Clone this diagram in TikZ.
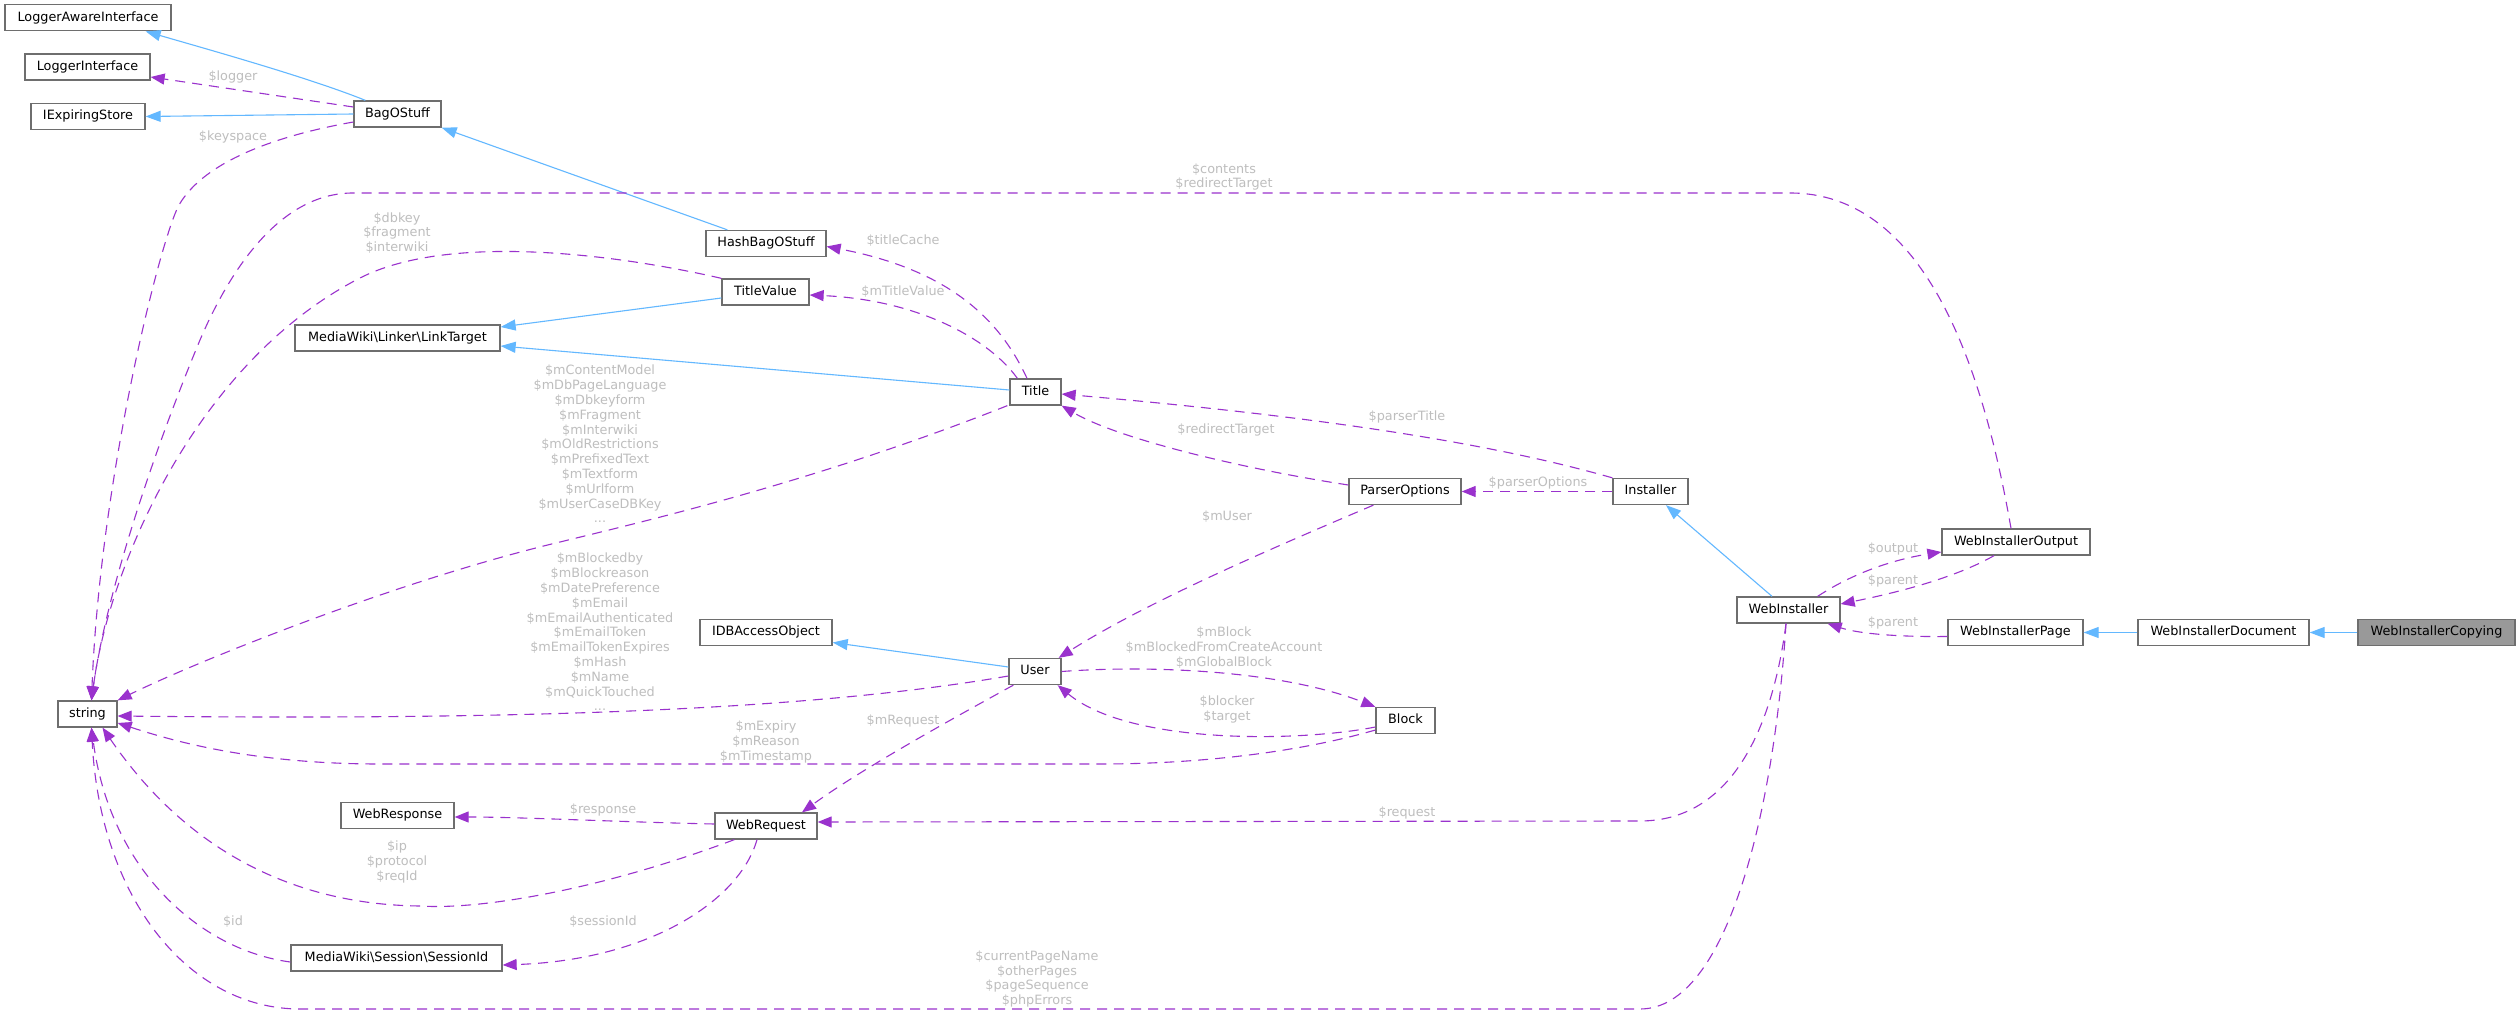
\documentclass[tikz,border=0pt]{standalone}
\usepackage{fontspec}
\setmainfont{DejaVu Sans}
\usetikzlibrary{arrows.meta,calc}
\definecolor{edgeblue}{HTML}{63B8FF}
\definecolor{edgepurple}{HTML}{9A32CD}
\definecolor{labelgrey}{HTML}{BEBEBE}
\definecolor{boxgrey}{HTML}{6E6E6E}
\definecolor{focusgrey}{HTML}{999999}
\newcommand\dgfont{\fontsize{12.8}{14.8}\selectfont}
\begin{document}
\begin{tikzpicture}[x=1pt,y=-1pt,
  classbox/.style={draw=boxgrey, line width=1.3pt, fill=white, minimum height=26pt,
    inner sep=0pt, text height=9.4pt, text depth=2.6pt, font=\dgfont},
  inhedge/.style={draw=edgeblue, line width=1.1pt,
    -{Triangle[length=15pt,width=11pt,fill=edgeblue]}},
  assoc/.style={draw=edgepurple, line width=1.1pt, dash pattern=on 10pt off 7pt,
    -{Triangle[length=14pt,width=11pt,fill=edgepurple]}},
  lbl/.style={text=labelgrey, font=\dgfont, align=center, inner sep=0pt}]
\fill[white] (0,0) rectangle (2520,1016);
\useasboundingbox (0,0) rectangle (2520,1016);

% nodes
\node[classbox, minimum width=166pt] (LAI) at (88,17.7) {LoggerAwareInterface};
\node[classbox, minimum width=125pt] (LI) at (87.5,67) {LoggerInterface};
\node[classbox, minimum width=114pt] (IES) at (88,116.5) {IExpiringStore};
\node[classbox, minimum width=87pt] (BOS) at (397.5,114) {BagOStuff};
\node[classbox, minimum width=120pt] (HBOS) at (766,243.5) {HashBagOStuff};
\node[classbox, minimum width=87pt] (TV) at (765.5,292) {TitleValue};
\node[classbox, minimum width=205pt] (LT) at (397.5,338) {MediaWiki\textbackslash Linker\textbackslash LinkTarget};
\node[classbox, minimum width=51pt] (Title) at (1035.5,392) {Title};
\node[classbox, minimum width=112pt] (PO) at (1405,491.5) {ParserOptions};
\node[classbox, minimum width=75pt] (Inst) at (1650.5,491.5) {Installer};
\node[classbox, minimum width=148pt] (WIO) at (2016,542) {WebInstallerOutput};
\node[classbox, minimum width=103pt] (WI) at (1788.5,610) {WebInstaller};
\node[classbox, minimum width=135pt] (WIP) at (2015.5,632.5) {WebInstallerPage};
\node[classbox, minimum width=171pt] (WID) at (2223.5,632.5) {WebInstallerDocument};
\node[classbox, minimum width=157pt, fill=focusgrey] (WIC) at (2436.5,632.5) {WebInstallerCopying};
\node[classbox, minimum width=132pt] (IDBAO) at (766,632.5) {IDBAccessObject};
\node[classbox, minimum width=52pt] (User) at (1035,671.5) {User};
\node[classbox, minimum width=59pt] (string) at (87.5,714) {string};
\node[classbox, minimum width=59pt] (Block) at (1405.5,720.5) {Block};
\node[classbox, minimum width=113pt] (WResp) at (397.5,815.5) {WebResponse};
\node[classbox, minimum width=102pt] (WReq) at (766,826) {WebRequest};
\node[classbox, minimum width=211pt] (SID) at (396.5,958) {MediaWiki\textbackslash Session\textbackslash SessionId};

% inheritance edges
\draw[inhedge] ($(BOS.north west)+(12,0)$) .. controls (310,78) and (210,50) .. ($(LAI.south east)+(-26,0)$);
\draw[inhedge] (BOS.west) -- (IES.east);
\draw[inhedge] ($(HBOS.north west)+(22,0)$) -- (BOS.south east);
\draw[inhedge] ($(TV.west)+(0,6)$) -- ($(LT.east)+(0,-11)$);
\draw[inhedge] ($(Title.west)+(0,-2)$) -- ($(LT.east)+(0,8)$);
\draw[inhedge] ($(WI.north)+(-16.5,0)$) -- ($(Inst.south)+(15.5,0)$);
\draw[inhedge] ($(User.west)+(0,-4.5)$) -- ($(IDBAO.east)+(0,10)$);
\draw[inhedge] (WID.west) -- (WIP.east);
\draw[inhedge] (WIC.west) -- (WID.east);

% usage edges
\draw[assoc] ($(BOS.west)+(0,-7)$) -- ($(LI.east)+(0,10)$);
\draw[assoc] ($(BOS.west)+(0,8)$) .. controls (280,135) and (205,160) .. (179,205) .. controls (160,240) and (100,480) .. ($(string.north)+(4,0)$);
\draw[assoc] ($(WIO.north)+(-5,0)$) .. controls (1985,380) and (1930,193) .. (1790,193) -- (353,193) .. controls (280,193) and (230,270) .. (200,340) .. controls (150,460) and (105,600) .. ($(string.north)+(4,0)$);
\draw[assoc] (TV.north west) .. controls (620,255) and (450,232) .. (360,278) .. controls (200,360) and (110,560) .. ($(string.north)+(4,0)$);
\draw[assoc] ($(Title.south west)+(-2,0)$) .. controls (820,480) and (650,520) .. (560,542) .. controls (400,580) and (200,660) .. (string.north east);
\draw[assoc] ($(Title.north)+(-8.5,0)$) .. controls (1000,320) and (950,270) .. ($(HBOS.east)+(0,3)$);
\draw[assoc] ($(Title.north west)+(8,0)$) .. controls (990,340) and (920,300) .. ($(TV.east)+(0,3)$);
\draw[assoc] (Inst.north west) .. controls (1480,440) and (1300,415) .. ($(Title.east)+(0,2)$);
\draw[assoc] ($(PO.west)+(0,-6.5)$) .. controls (1250,470) and (1120,440) .. (Title.south east);
\draw[assoc] (Inst.west) -- (PO.east);
\draw[assoc] ($(PO.south west)+(25,0)$) .. controls (1280,545) and (1150,600) .. ($(User.north east)+(-3,0)$);
\draw[assoc] ($(WI.north east)+(-23,0)$) .. controls (1850,575) and (1890,560) .. ($(WIO.west)+(0,10)$);
\draw[assoc] ($(WIO.south)+(-22,0)$) .. controls (1960,575) and (1910,590) .. ($(WI.east)+(0,-6)$);
\draw[assoc] ($(WIP.west)+(0,4)$) .. controls (1900,637) and (1860,634) .. ($(WI.south east)+(-13,0)$);
\draw[assoc] ($(WI.south)+(-2.5,0)$) .. controls (1775,710) and (1740,821) .. (1640,821) -- ($(WReq.east)+(0,-4)$);
\draw[assoc] ($(WI.south)+(-2.5,0)$) .. controls (1775,800) and (1730,1009) .. (1640,1009) -- (300,1009) .. controls (190,1009) and (100,900) .. ($(string.south)+(4,0)$);
\draw[assoc] ($(User.west)+(0,4.5)$) .. controls (800,712) and (500,720) .. ($(string.east)+(0,2)$);
\draw[assoc] (User.east) .. controls (1150,665) and (1280,670) .. (Block.north west);
\draw[assoc] ($(Block.west)+(0,6.5)$) .. controls (1300,742) and (1130,745) .. ($(User.south east)+(-4,0)$);
\draw[assoc] ($(Block.west)+(0,9.5)$) .. controls (1300,752) and (1200,764) .. (1100,764) -- (380,764) .. controls (250,764) and (170,740) .. ($(string.east)+(0,9)$);
\draw[assoc] ($(User.south west)+(5,0)$) .. controls (950,720) and (860,770) .. ($(WReq.north)+(36,0)$);
\draw[assoc] ($(WReq.west)+(0,-2)$) .. controls (620,822) and (520,817) .. ($(WResp.east)+(0,1.5)$);
\draw[assoc] ($(WReq.south west)+(20,0)$) .. controls (600,890) and (480,910) .. (420,906) .. controls (320,905) and (200,870) .. ($(string.south)+(15,0)$);
\draw[assoc] ($(WReq.south)+(-9,0)$) .. controls (740,900) and (650,960) .. ($(SID.east)+(0,7)$);
\draw[assoc] ($(SID.west)+(0,4)$) .. controls (200,950) and (110,870) .. ($(string.south)+(4,0)$);

% edge labels
\node[lbl] (Llogger) at (233,77) {\$logger};
\node[lbl] (Lkeyspace) at (233,137) {\$keyspace};
\node[lbl] (Lcontents) at (1224,177) {\$contents\\\$redirectTarget};
\node[lbl] (Ldbkey) at (397,233) {\$dbkey\\\$fragment\\\$interwiki};
\node[lbl] (LtitleCache) at (903,241) {\$titleCache};
\node[lbl] (LmTitleValue) at (903,292) {\$mTitleValue};
\node[lbl] (LTitleStr) at (600,444) {\$mContentModel\\\$mDbPageLanguage\\\$mDbkeyform\\\$mFragment\\\$mInterwiki\\\$mOldRestrictions\\\$mPrefixedText\\\$mTextform\\\$mUrlform\\\$mUserCaseDBKey\\...};
\node[lbl] (LparserTitle) at (1407,417) {\$parserTitle};
\node[lbl] (LredirectTarget) at (1226,430) {\$redirectTarget};
\node[lbl] (LparserOptions) at (1538,483) {\$parserOptions};
\node[lbl] (LmUser) at (1227,517) {\$mUser};
\node[lbl] (Loutput) at (1893,549) {\$output};
\node[lbl] (Lparent1) at (1893,581) {\$parent};
\node[lbl] (Lparent2) at (1893,623) {\$parent};
\node[lbl] (LUserStr) at (600,632) {\$mBlockedby\\\$mBlockreason\\\$mDatePreference\\\$mEmail\\\$mEmailAuthenticated\\\$mEmailToken\\\$mEmailTokenExpires\\\$mHash\\\$mName\\\$mQuickTouched\\...};
\node[lbl] (LmBlock) at (1224,647.5) {\$mBlock\\\$mBlockedFromCreateAccount\\\$mGlobalBlock};
\node[lbl] (Lblocker) at (1227,709.5) {\$blocker\\\$target};
\node[lbl] (LmRequest) at (903,721) {\$mRequest};
\node[lbl] (LmExpiry) at (766,742) {\$mExpiry\\\$mReason\\\$mTimestamp};
\node[lbl] (Lresponse) at (603,810) {\$response};
\node[lbl] (Lrequest) at (1407,813) {\$request};
\node[lbl] (Lip) at (397,862) {\$ip\\\$protocol\\\$reqId};
\node[lbl] (Lid) at (233,922) {\$id};
\node[lbl] (LsessionId) at (603,922) {\$sessionId};
\node[lbl] (Lpages) at (1037,979) {\$currentPageName\\\$otherPages\\\$pageSequence\\\$phpErrors};
\end{tikzpicture}
\end{document}
